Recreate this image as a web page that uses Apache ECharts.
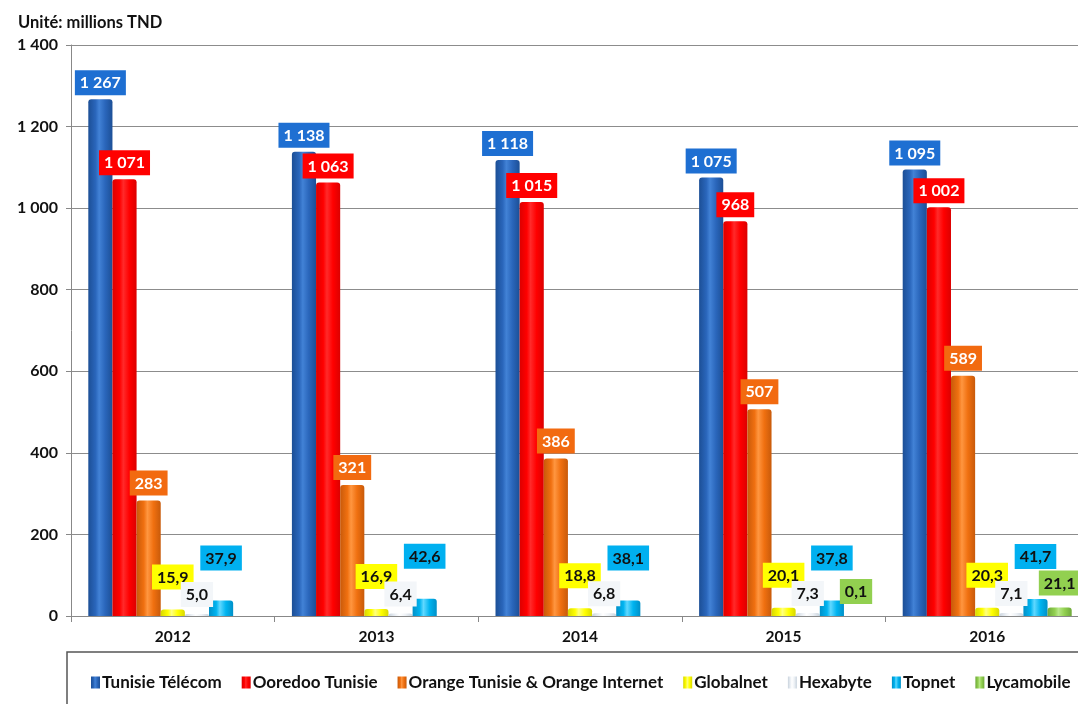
<!DOCTYPE html>
<html>
<head>
<meta charset="utf-8">
<script src="https://cdn.jsdelivr.net/npm/echarts@6/dist/echarts.min.js"></script>
<style>
  html, body { margin: 0; padding: 0; background: #fff; }
  #chart { width: 1078px; height: 704px; }
</style>
</head>
<body>
<div id="chart"></div>
<script>
// Chiffre d'affaires des opérateurs — unité: millions TND
const years = ['2012', '2013', '2014', '2015', '2016']
const tunisieTelecom = [1267, 1138, 1118, 1075, 1095]
const ooredoo = [1071, 1063, 1015, 968, 1002]
const orange = [283, 321, 386, 507, 589]
const globalnet = [15.9, 16.9, 18.8, 20.1, 20.3]
const hexabyte = [5.0, 6.4, 6.8, 7.3, 7.1]
const topnet = [37.9, 42.6, 38.1, 37.8, 41.7]
const lycamobile = [null, null, null, 0.1, 21.1]
const yTicks = [0, 200, 400, 600, 800, 1000, 1200, 1400]

const FONT = 'Lato'
const thousands = (v) => String(v).replace(/\B(?=(\d{3})+(?!\d))/g, ' ')
const oneDecimal = (v) => v.toFixed(1).replace('.', ',')

// cylinder look: dark edges, light stripe left of centre
const cyl = (edge, base, light) => ({
  type: 'linear', x: 0, y: 0, x2: 1, y2: 0,
  colorStops: [
    { offset: 0, color: edge },
    { offset: 0.3, color: base },
    { offset: 0.45, color: light },
    { offset: 0.7, color: base },
    { offset: 1, color: edge },
  ],
})

function makeSeries(name, data, opts) {
  return {
    name,
    type: 'bar',
    data,
    barGap: '0%',
    barCategoryGap: '17%',
    itemStyle: { color: opts.fill, borderRadius: [3, 3, 0, 0] },
    label: {
      show: true,
      position: 'top',
      distance: opts.dist,
      formatter: (p) => (p.value == null ? '' : opts.fmt(p.value)),
      backgroundColor: opts.box,
      color: opts.text,
      fontFamily: FONT,
      fontWeight: 'bold',
      fontSize: 16,
      padding: [5, 5, 4, 5],
    },
    animation: false,
  }
}

const chart = echarts.init(document.getElementById('chart'), null, { renderer: 'canvas' })

chart.setOption({
  backgroundColor: '#ffffff',
  animation: false,
  title: {
    text: 'Unité: millions TND',
    left: 13,
    top: 9,
    textStyle: { fontFamily: FONT, fontWeight: 'bold', fontSize: 16.5, color: '#111' },
  },
  grid: { left: 71, top: 45, width: 1018, height: 571, outerBoundsMode: 'none', containLabel: false },
  xAxis: {
    type: 'category',
    data: years,
    axisLine: { lineStyle: { color: '#888', width: 1 } },
    axisTick: { show: true, length: 6, lineStyle: { color: '#888' } },
    axisLabel: { color: '#111', fontFamily: FONT, fontWeight: 'bold', fontSize: 15.5, margin: 13 },
  },
  yAxis: {
    type: 'value',
    min: 0,
    max: 1400,
    interval: 200,
    axisLine: { show: true, lineStyle: { color: '#888' } },
    axisTick: { show: true, length: 5, lineStyle: { color: '#888' } },
    splitLine: { lineStyle: { color: '#8c8c8c', width: 1 } },
    axisLabel: {
      color: '#111', fontFamily: FONT, fontWeight: 'bold', fontSize: 16, margin: 13,
      formatter: (v) => (yTicks.includes(v) ? thousands(v) : ''),
    },
  },
  legend: {
    left: 86,
    top: 669,
    itemWidth: 9,
    itemHeight: 12,
    itemGap: 20,
    icon: 'rect',
    textStyle: { fontFamily: FONT, fontWeight: 'bold', fontSize: 17, color: '#111', padding: [0, 0, 0, -3] },
  },
  graphic: [
    {
      type: 'rect',
      shape: { x: 67, y: 652, width: 1030, height: 70 },
      style: { fill: 'none', stroke: '#555', lineWidth: 1.5 },
      silent: true,
    },
  ],
  series: [
    makeSeries('Tunisie Télécom', tunisieTelecom, {
      fill: cyl('#1c4f96', '#2a66bb', '#4282d6'), box: '#1e6fd2', text: '#fff', dist: 4, fmt: thousands,
    }),
    makeSeries('Ooredoo Tunisie', ooredoo, {
      fill: cyl('#dc0000', '#ff0000', '#ff2a2a'), box: '#ff0000', text: '#fff', dist: 4, fmt: thousands,
    }),
    makeSeries('Orange Tunisie & Orange Internet', orange, {
      fill: cyl('#c85a0a', '#f07010', '#ff9640'), box: '#f26a10', text: '#fff', dist: 5, fmt: thousands,
    }),
    makeSeries('Globalnet', globalnet, {
      fill: cyl('#d8d800', '#ffff00', '#ffff80'), box: '#ffff00', text: '#111', dist: 20, fmt: oneDecimal,
    }),
    makeSeries('Hexabyte', hexabyte, {
      fill: cyl('#c9d3dd', '#eef2f6', '#ffffff'), box: '#f3f6f9', text: '#111', dist: 7, fmt: oneDecimal,
    }),
    makeSeries('Topnet', topnet, {
      fill: cyl('#0090c8', '#00b4f0', '#60d8ff'), box: '#00b0f0', text: '#111', dist: 30, fmt: oneDecimal,
    }),
    makeSeries('Lycamobile', lycamobile, {
      fill: cyl('#6ea83a', '#92d050', '#b8e888'), box: '#92d050', text: '#111', dist: 12, fmt: oneDecimal,
    }),
  ],
})
</script>
</body>
</html>
